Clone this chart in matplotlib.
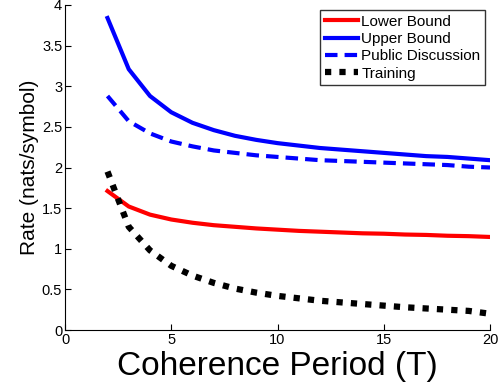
import numpy as np
import matplotlib.pyplot as plt

plt.rcParams['font.family'] = ['Liberation Sans', 'DejaVu Sans']

T = list(range(2, 21))
lower = [1.71, 1.52, 1.42, 1.36, 1.32, 1.29, 1.27, 1.25, 1.235, 1.22,
         1.21, 1.20, 1.19, 1.185, 1.175, 1.17, 1.16, 1.155, 1.145]
upper = [3.84, 3.21, 2.88, 2.68, 2.55, 2.46, 2.39, 2.34, 2.30, 2.27,
         2.24, 2.22, 2.20, 2.18, 2.16, 2.14, 2.13, 2.11, 2.09]
public = [2.88, 2.57, 2.42, 2.32, 2.26, 2.21, 2.18, 2.15, 2.13, 2.11,
          2.09, 2.08, 2.07, 2.06, 2.05, 2.04, 2.03, 2.01, 2.00]
training = [1.95, 1.27, 0.98, 0.79, 0.67, 0.58, 0.51, 0.46, 0.42, 0.39,
            0.36, 0.34, 0.32, 0.30, 0.28, 0.265, 0.25, 0.235, 0.20]

fig = plt.figure(figsize=(5.03, 3.92), dpi=100)
ax = fig.add_axes([65/503, 1 - 330/392, 425/503, 325/392])

ax.plot(T, lower, color='red', lw=3, label='Lower Bound')
ax.plot(T, upper, color='blue', lw=3, label='Upper Bound')
ax.plot(T, public, color='blue', lw=3, ls=(0, (3, 1.7)), label='Public Discussion')
ax.plot(T, training, color='black', lw=4.5, ls=(0, (1, 1.3)), label='Training')

ax.set_xlim(0, 20)
ax.set_ylim(0, 4)
ax.set_xticks([0, 5, 10, 15, 20])
ax.set_yticks([0, 0.5, 1, 1.5, 2, 2.5, 3, 3.5, 4])
ax.set_yticklabels(['0', '0.5', '1', '1.5', '2', '2.5', '3', '3.5', '4'])
ax.tick_params(direction='in', length=4, labelsize=10.5, pad=2)
ax.spines['top'].set_visible(False)
ax.spines['right'].set_visible(False)

ax.set_xlabel('Coherence Period (T)', fontsize=24, labelpad=3)
ax.set_ylabel('Rate (nats/symbol)', fontsize=15, labelpad=2)

leg = ax.legend(loc='upper right', bbox_to_anchor=(485/503, 1 - 10/392),
                bbox_transform=fig.transFigure, fontsize=11, frameon=True,
                fancybox=False, edgecolor='black', handlelength=2.2,
                handletextpad=0.2, borderpad=0.3, labelspacing=0.22,
                borderaxespad=0)
leg.get_frame().set_linewidth(1)

fig.savefig('out.png', dpi=100)
